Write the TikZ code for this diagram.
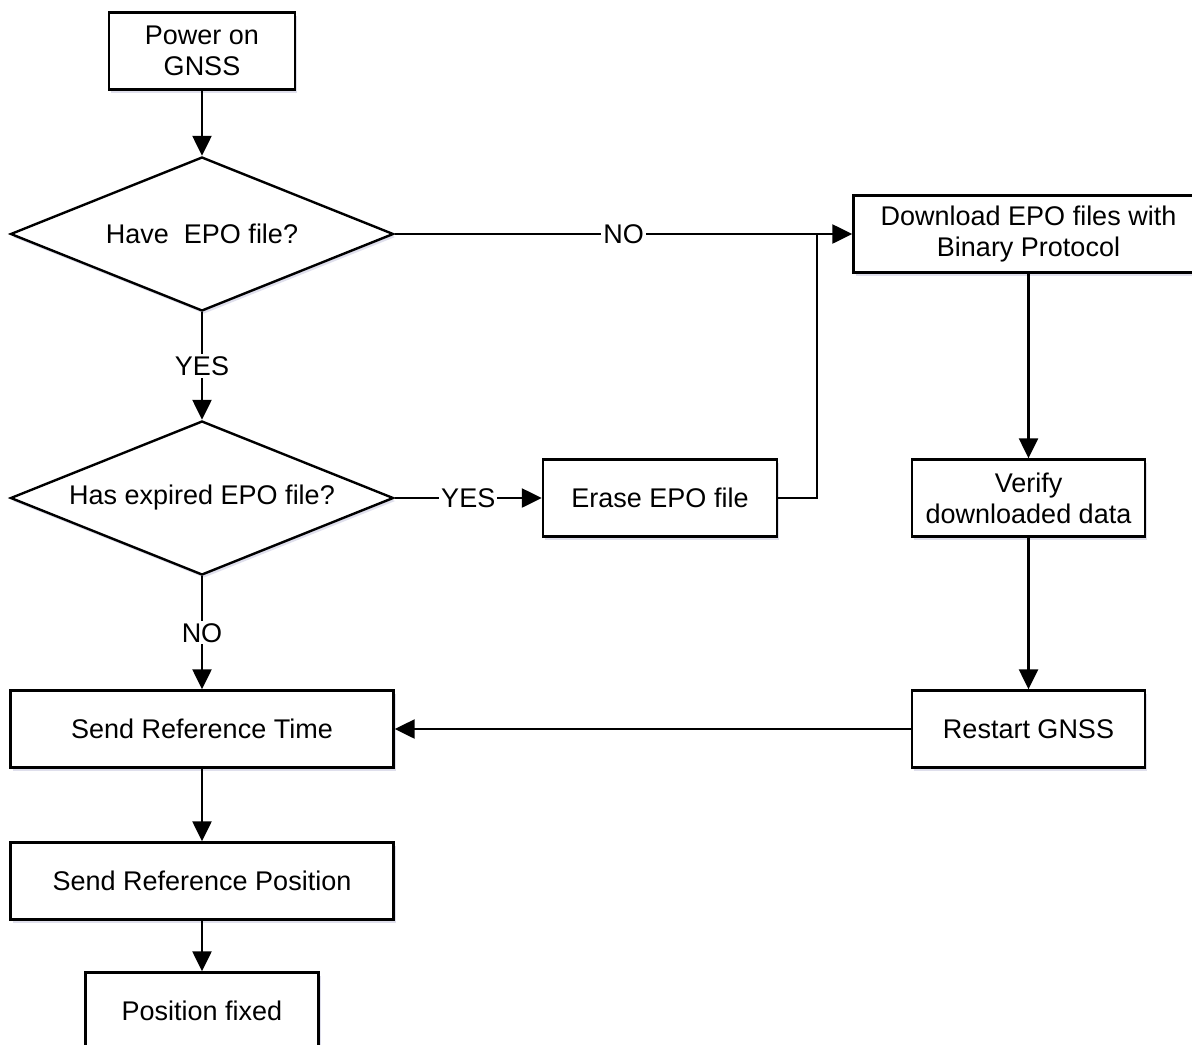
\documentclass[tikz,border=0pt]{standalone}
\usepackage{fontspec}
\setmainfont{Liberation Sans}
\usetikzlibrary{shapes.geometric,arrows.meta,shadows}

\tikzset{
	box/.style={draw, line width=1.2pt, fill=white, align=center, inner sep=0pt,
		minimum height=38.5pt, font=\fontsize{13.5}{15.5}\selectfont,
		drop shadow={shadow xshift=1pt, shadow yshift=-1.5pt, fill=blue!25!gray!40, opacity=0.5}},
	decision/.style={box, diamond, aspect=2.47, minimum width=191.5pt, minimum height=77pt},
	flow/.style={line width=1.2pt, -{Triangle[length=10pt,width=9.5pt]}},
	tag/.style={fill=white, inner sep=1pt, font=\fontsize{13.5}{15.5}\selectfont}
}

\begin{document}
\begin{tikzpicture}[x=0.5pt, y=-0.5pt]
		\clip (0,0) rectangle (1192,1044);
		\coordinate (J_join) at (817, 234);
		
		\node[box, minimum width=93pt] (B_power) at (202, 51) {Power on\\GNSS};
		\node[decision] (D_have) at (202, 234) {Have\ \ EPO file?};
		\node[decision] (D_expired) at (202, 498) {Has expired EPO file?};
		\node[box, minimum width=117pt] (B_erase) at (660, 498) {Erase EPO file};
		\node[box, minimum width=175pt] (B_download) at (1028.5, 234) {Download EPO files with\\Binary Protocol};
		\node[box, minimum width=116.5pt] (B_verify) at (1028.5, 498) {Verify\\downloaded data};
		\node[box, minimum width=116.5pt] (B_restart) at (1028.5, 729) {Restart GNSS};
		\node[box, minimum width=191.5pt] (B_sendtime) at (202, 729) {Send Reference Time};
		\node[box, minimum width=191.5pt] (B_sendpos) at (202, 881) {Send Reference Position};
		\node[box, minimum width=116.5pt] (B_fixed) at (202, 1011) {Position fixed};
		
		\foreach \from/\to in {B_power/D_have, B_download/B_verify, B_verify/B_restart, B_sendtime/B_sendpos, B_sendpos/B_fixed}
			\draw[flow] (\from) -- (\to);
		
		\draw[flow] (D_have.east) -- node[tag] {NO} (B_download.west);
		\draw[flow] (D_have.south) -- node[tag] {YES} (D_expired.north);
		\draw[flow] (D_expired.east) -- node[tag] {YES} (B_erase.west);
		\draw[flow] (D_expired.south) -- node[tag] {NO} (B_sendtime.north);
		\draw[line width=1.2pt] (B_erase.east) -| (J_join);
		\draw[flow] (B_restart.west) -- (B_sendtime.east);
	\end{tikzpicture}
\end{document}
